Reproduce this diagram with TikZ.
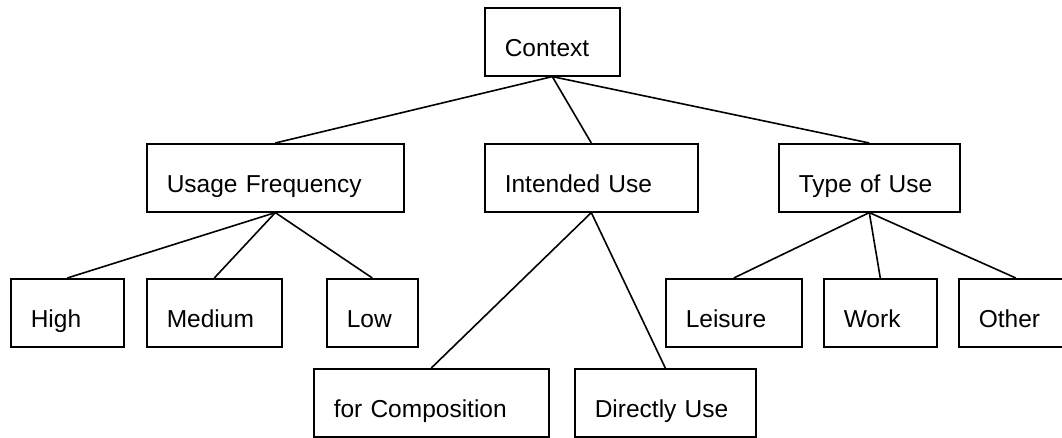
\documentclass[tikz,border=0pt]{standalone}
\usepackage{fontspec}
\setmainfont{Liberation Sans}
\begin{document}
\begin{tikzpicture}[x=1pt,y=-1pt,
  box/.style={draw, line width=1.6pt, anchor=north west, rectangle,
    inner xsep=20pt, inner ysep=0pt, minimum height=68pt,
    text height=30pt, text depth=0pt, align=left,
    font=\fontsize{24.5}{29}\selectfont},
  link/.style={line width=1.6pt}]
  \useasboundingbox (0,0) rectangle (1062,438);
  % root
  \node[box, text width=95pt]  (ctx)  at (484,7)   {Context};
  % second level
  \node[box, text width=217pt] (freq) at (146,143) {Usage Frequency};
  \node[box, text width=173pt] (use)  at (484,143) {Intended Use};
  \node[box, text width=141pt] (type) at (778,143) {Type of Use};
  % leaves of Usage Frequency
  \node[box, text width=73pt]  (high) at (10,278)  {High};
  \node[box, text width=95pt]  (med)  at (146,278) {Medium};
  \node[box, text width=51pt]  (low)  at (326,278) {Low};
  % leaves of Type of Use
  \node[box, text width=96pt]  (leis) at (665,278) {Leisure};
  \node[box, text width=73pt]  (work) at (823,278) {Work};
  \node[box, text width=74pt]  (oth)  at (958,278) {Other};
  % leaves of Intended Use
  \node[box, text width=195pt] (comp) at (313,368) {for Composition};
  \node[box, text width=141pt] (dir)  at (574,368) {Directly Use};
  % connectors
  \draw[link] (ctx.south) -- (freq.north);
  \draw[link] (ctx.south) -- (use.north);
  \draw[link] (ctx.south) -- (type.north);
  \draw[link] (freq.south) -- (high.north);
  \draw[link] (freq.south) -- (med.north);
  \draw[link] (freq.south) -- (low.north);
  \draw[link] (use.south) -- (comp.north);
  \draw[link] (use.south) -- (dir.north);
  \draw[link] (type.south) -- (leis.north);
  \draw[link] (type.south) -- (work.north);
  \draw[link] (type.south) -- (oth.north);
\end{tikzpicture}
\end{document}
